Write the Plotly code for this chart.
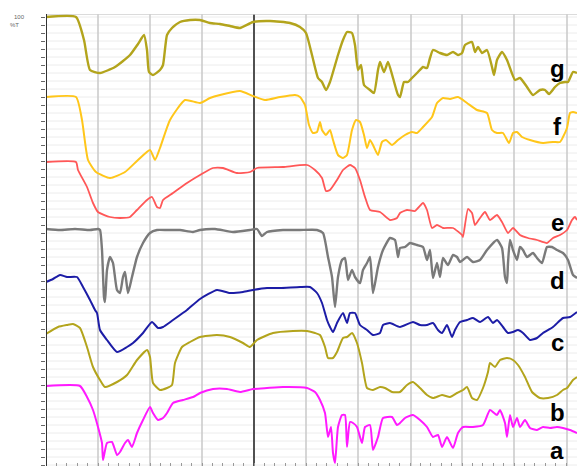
import plotly.graph_objects as go

# Stacked transmittance spectra; position along the abscissa and vertical
# offset (plot units, increasing downwards) for each sample trace.
X_G = [46, 76, 84, 90, 100, 115, 130, 138, 144, 147, 149, 153, 160, 163, 167, 172, 180, 190, 200, 210, 220, 230, 240, 253, 270, 290, 300, 306, 312, 318, 322, 326, 330, 338, 343, 347, 352, 355, 358, 361, 364, 370, 374, 378, 380, 384, 388, 393, 398, 400, 404, 408, 412, 418, 423, 427, 430, 433, 440, 447, 453, 458, 462, 465, 472, 475, 478, 482, 487, 492, 494, 497, 502, 507, 515, 520, 527, 533, 540, 545, 549, 555, 560, 565, 568, 573, 577]
Y_G = [17, 17, 40, 70, 73, 67, 55, 44, 35, 50, 72, 75, 70, 65, 35, 28, 22, 20, 20, 23, 24, 26, 28, 22, 21, 23, 27, 33, 55, 78, 82, 90, 82, 55, 40, 32, 33, 45, 70, 65, 85, 90, 93, 70, 62, 72, 62, 78, 95, 97, 82, 82, 78, 72, 67, 68, 58, 50, 53, 55, 52, 55, 53, 45, 42, 52, 47, 53, 50, 67, 75, 60, 52, 60, 80, 78, 87, 95, 90, 90, 94, 87, 83, 82, 82, 72, 73]

X_F = [46, 76, 82, 88, 96, 110, 125, 138, 150, 155, 160, 170, 185, 200, 210, 220, 240, 253, 265, 280, 295, 300, 305, 309, 313, 317, 320, 322, 326, 330, 333, 338, 343, 347, 352, 356, 360, 364, 367, 370, 373, 378, 382, 386, 392, 398, 405, 412, 417, 423, 432, 437, 443, 450, 458, 467, 477, 487, 492, 497, 503, 509, 513, 517, 522, 530, 543, 553, 560, 563, 567, 570, 573, 577]
Y_F = [97, 97, 120, 160, 172, 178, 172, 160, 150, 160, 148, 120, 100, 103, 98, 95, 91, 96, 100, 97, 95, 97, 105, 125, 133, 132, 122, 130, 135, 130, 140, 155, 158, 155, 130, 120, 122, 135, 148, 140, 145, 155, 142, 140, 145, 140, 135, 132, 133, 127, 117, 103, 98, 99, 97, 103, 110, 113, 130, 133, 133, 143, 133, 132, 137, 140, 143, 142, 142, 137, 128, 113, 112, 113]

X_E = [46, 76, 78, 87, 93, 98, 110, 120, 130, 137, 147, 152, 157, 160, 163, 173, 187, 200, 213, 223, 237, 250, 257, 283, 307, 315, 322, 326, 330, 337, 343, 350, 355, 360, 365, 370, 380, 390, 397, 400, 407, 415, 423, 427, 432, 437, 443, 453, 462, 463, 468, 472, 475, 480, 485, 490, 497, 502, 508, 513, 520, 528, 537, 547, 553, 560, 567, 572, 575, 577]
Y_E = [162, 162, 170, 187, 203, 212, 217, 218, 217, 210, 200, 197, 207, 208, 200, 193, 183, 175, 168, 168, 173, 172, 168, 167, 165, 170, 178, 191, 190, 180, 170, 165, 168, 180, 197, 210, 212, 220, 218, 213, 210, 211, 203, 210, 228, 225, 228, 228, 235, 237, 209, 213, 225, 218, 212, 220, 215, 222, 233, 228, 235, 238, 240, 243, 238, 235, 230, 220, 217, 220]

X_D = [46, 60, 75, 90, 98, 100, 102, 104, 105, 107, 110, 113, 117, 120, 123, 125, 128, 132, 137, 143, 150, 157, 167, 180, 193, 200, 215, 233, 250, 257, 262, 267, 283, 300, 317, 323, 328, 332, 335, 338, 342, 345, 348, 352, 355, 360, 363, 367, 370, 373, 378, 383, 390, 395, 398, 400, 405, 410, 417, 423, 427, 430, 433, 437, 440, 443, 448, 453, 457, 460, 467, 473, 480, 487, 497, 502, 505, 507, 508, 510, 513, 517, 520, 523, 527, 533, 537, 542, 547, 552, 557, 563, 568, 573, 577]
Y_D = [229, 230, 229, 230, 229, 230, 250, 297, 302, 270, 257, 263, 290, 293, 277, 272, 293, 277, 257, 243, 233, 230, 230, 230, 232, 230, 229, 232, 230, 229, 236, 232, 230, 230, 230, 233, 257, 277, 307, 277, 260, 258, 280, 270, 277, 283, 270, 263, 257, 293, 267, 250, 238, 240, 257, 248, 247, 243, 245, 247, 260, 250, 278, 263, 277, 258, 265, 255, 257, 262, 257, 262, 260, 250, 240, 248, 277, 283, 263, 240, 250, 260, 247, 250, 257, 253, 258, 263, 247, 247, 250, 253, 260, 275, 278]

X_C = [46, 53, 60, 67, 77, 83, 90, 95, 97, 100, 107, 117, 127, 133, 143, 152, 158, 163, 173, 187, 200, 217, 230, 243, 253, 267, 280, 300, 310, 317, 322, 327, 330, 333, 337, 343, 347, 350, 355, 360, 367, 373, 380, 383, 390, 400, 413, 420, 427, 433, 438, 442, 447, 452, 455, 460, 467, 473, 480, 488, 493, 497, 503, 508, 513, 518, 523, 530, 537, 543, 553, 563, 570, 577]
Y_C = [282, 279, 275, 277, 277, 287, 300, 310, 313, 330, 340, 352, 347, 343, 333, 322, 328, 327, 320, 310, 299, 290, 293, 292, 290, 288, 288, 287, 287, 293, 303, 320, 327, 332, 323, 313, 323, 313, 313, 325, 330, 335, 333, 325, 323, 327, 322, 325, 325, 323, 330, 333, 325, 337, 330, 322, 320, 318, 322, 317, 323, 320, 327, 333, 332, 330, 333, 340, 338, 333, 327, 318, 317, 312]

X_B = [46, 58, 67, 73, 80, 87, 93, 100, 105, 117, 127, 137, 147, 150, 153, 160, 167, 172, 175, 182, 190, 200, 217, 230, 243, 250, 257, 273, 293, 307, 315, 320, 325, 328, 333, 337, 343, 347, 352, 357, 362, 367, 373, 380, 385, 392, 400, 407, 413, 420, 427, 433, 442, 450, 457, 463, 467, 472, 477, 483, 488, 490, 495, 500, 507, 513, 518, 525, 532, 540, 548, 557, 563, 567, 573, 577]
Y_B = [334, 327, 325, 324, 328, 347, 367, 380, 387, 382, 375, 360, 350, 357, 383, 390, 388, 385, 363, 347, 342, 337, 335, 337, 343, 347, 340, 333, 331, 331, 333, 335, 347, 358, 358, 352, 338, 337, 333, 343, 363, 388, 390, 387, 388, 392, 392, 385, 382, 388, 395, 398, 395, 397, 393, 390, 387, 398, 400, 388, 372, 363, 367, 360, 358, 360, 365, 377, 392, 398, 398, 395, 390, 388, 380, 377]

X_A = [46, 80, 87, 93, 98, 102, 103, 107, 112, 117, 120, 125, 128, 132, 137, 143, 150, 153, 158, 163, 167, 173, 183, 193, 200, 213, 227, 240, 253, 267, 283, 307, 315, 320, 325, 328, 331, 333, 335, 338, 342, 345, 347, 350, 353, 357, 362, 365, 370, 373, 378, 383, 392, 397, 400, 405, 413, 420, 427, 433, 438, 442, 447, 453, 458, 463, 473, 483, 490, 497, 500, 505, 507, 510, 513, 517, 520, 525, 530, 537, 543, 550, 557, 563, 570, 577]
Y_A = [386, 386, 397, 410, 427, 443, 460, 443, 442, 455, 452, 443, 440, 447, 433, 420, 407, 413, 420, 418, 413, 403, 400, 397, 393, 389, 389, 392, 389, 388, 387, 388, 392, 400, 413, 437, 427, 453, 463, 427, 415, 415, 447, 422, 423, 427, 443, 427, 425, 450, 437, 418, 417, 425, 423, 418, 415, 420, 427, 437, 435, 447, 437, 448, 433, 427, 427, 425, 410, 415, 410, 423, 437, 415, 427, 418, 427, 420, 428, 430, 427, 428, 427, 428, 430, 433]

SERIES = [
    ("g", X_G, Y_G, "#b3a41c", 2.4, 68),
    ("f", X_F, Y_F, "#ffc61a", 2.0, 126),
    ("e", X_E, Y_E, "#ff5757", 1.8, 222),
    ("d", X_D, Y_D, "#7a7a7a", 2.4, 280),
    ("c", X_C, Y_C, "#1c1ca6", 2.0, 342),
    ("b", X_B, Y_B, "#b3a41c", 2.0, 412),
    ("a", X_A, Y_A, "#ff1aff", 2.0, 450),
]

# Abscissa divisions (major grid) and the heavy scale-change marker
V_GRID = [98, 150, 202, 306, 358, 411, 462, 514, 567]
V_BREAK = 254

X_MIN, X_MAX = 46, 577
Y_TOP, Y_BOTTOM = 14, 466

fig = go.Figure()

shapes = []
# faint horizontal rulings
y = 17
while y < Y_BOTTOM:
    shapes.append(dict(type="line", xref="x", yref="y", x0=X_MIN, x1=X_MAX, y0=y, y1=y,
                       line=dict(color="#ececec", width=1), layer="below"))
    y += 8
for xv in V_GRID:
    shapes.append(dict(type="line", xref="x", yref="y", x0=xv, x1=xv, y0=Y_TOP, y1=Y_BOTTOM,
                       line=dict(color="#c8c8c8", width=1.5), layer="below"))
shapes.append(dict(type="line", xref="x", yref="y", x0=V_BREAK, x1=V_BREAK, y0=Y_TOP, y1=Y_BOTTOM,
                   line=dict(color="#505050", width=2), layer="below"))
shapes.append(dict(type="line", xref="x", yref="y", x0=X_MIN, x1=X_MAX, y0=Y_TOP, y1=Y_TOP,
                   line=dict(color="#cfcfcf", width=1.5), layer="below"))
shapes.append(dict(type="line", xref="x", yref="y", x0=X_MIN, x1=X_MIN, y0=Y_TOP, y1=Y_BOTTOM,
                   line=dict(color="#333333", width=2)))

for name, xs, ys, color, width, ly in SERIES:
    fig.add_trace(go.Scatter(x=xs, y=ys, mode="lines", name=name,
                             line=dict(color=color, width=width, shape="spline", smoothing=0.5),
                             hoverinfo="skip", showlegend=False))
    fig.add_annotation(x=557, y=ly, xref="x", yref="y", text="<b>%s</b>" % name,
                       showarrow=False, font=dict(family="Liberation Sans, Arial", size=24, color="black"))

# ordinate caption at the top-left corner
fig.add_annotation(x=-0.05, y=0.993, xref="paper", yref="paper", xanchor="center", yanchor="middle",
                   text="100", showarrow=False,
                   font=dict(family="Liberation Sans, Arial", size=6, color="#666666"))
fig.add_annotation(x=-0.06, y=0.975, xref="paper", yref="paper", xanchor="center", yanchor="middle",
                   text="%T", showarrow=False,
                   font=dict(family="Liberation Sans, Arial", size=6, color="#666666"))

fig.update_layout(
    width=577, height=468,
    margin=dict(l=46, r=0, t=14, b=2),
    paper_bgcolor="white", plot_bgcolor="white",
    shapes=shapes,
    xaxis=dict(range=[X_MIN, X_MAX], showgrid=False, zeroline=False, showticklabels=False,
               ticks="inside", ticklen=3, tickcolor="#999999", dtick=10.4, tick0=46, showline=False),
    yaxis=dict(range=[Y_BOTTOM, Y_TOP], showgrid=False, zeroline=False, showticklabels=False,
               ticks="outside", ticklen=4, tickcolor="#666666", dtick=8, tick0=17, showline=False),
)

fig.write_html("out.html")
